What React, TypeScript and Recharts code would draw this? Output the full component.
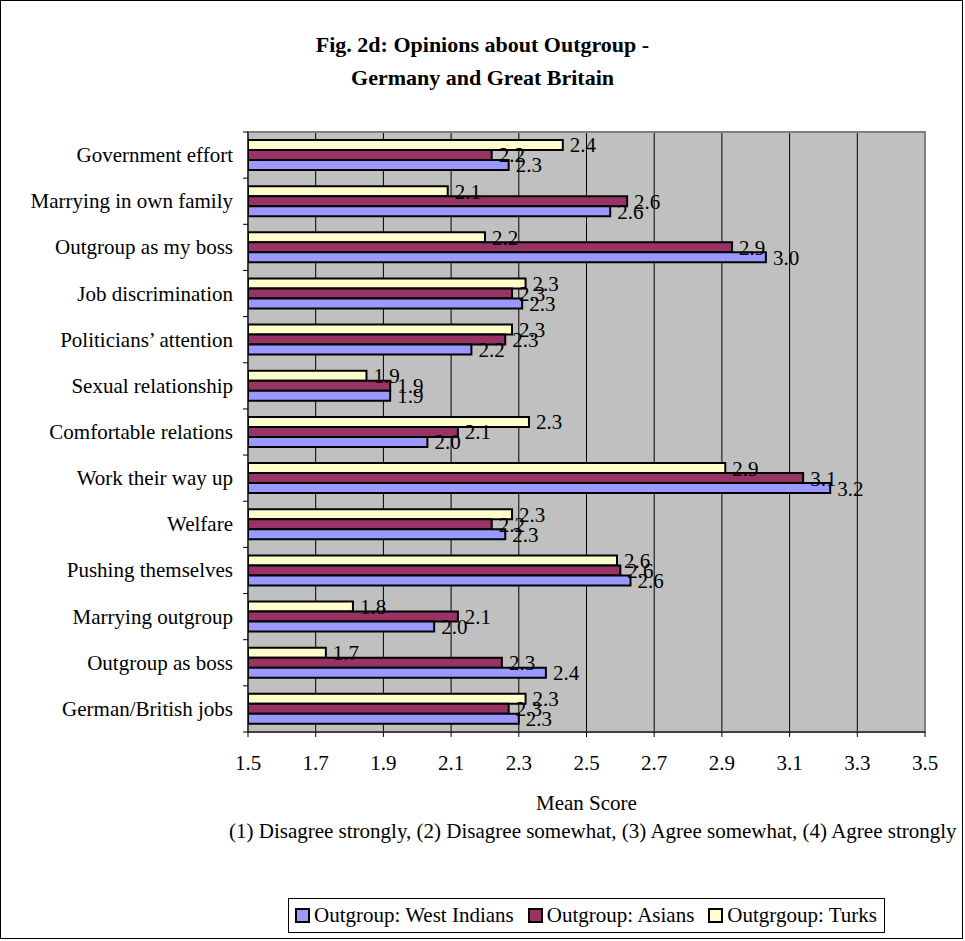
import { Bar, BarChart, CartesianGrid, LabelList, Legend, ReferenceArea, XAxis, YAxis } from 'recharts'

const categories = [
  'Government effort',
  'Marrying in own family',
  'Outgroup as my boss',
  'Job discrimination',
  'Politicians\u2019 attention',
  'Sexual relationship',
  'Comfortable relations',
  'Work their way up',
  'Welfare',
  'Pushing themselves',
  'Marrying outgroup',
  'Outgroup as boss',
  'German/British jobs',
]

const westIndians = [2.27, 2.57, 3.03, 2.31, 2.16, 1.92, 2.03, 3.22, 2.26, 2.63, 2.05, 2.38, 2.3]
const asians = [2.22, 2.62, 2.93, 2.28, 2.26, 1.92, 2.12, 3.14, 2.22, 2.6, 2.12, 2.25, 2.27]
const turks = [2.43, 2.09, 2.2, 2.32, 2.28, 1.85, 2.33, 2.91, 2.28, 2.59, 1.81, 1.73, 2.32]

const xTicks = [1.5, 1.7, 1.9, 2.1, 2.3, 2.5, 2.7, 2.9, 3.1, 3.3, 3.5]

// bars are stacked top-to-bottom in this order inside each category
const series = [
  { key: 'turks', name: 'Outgrgoup: Turks', color: '#FFFFCC' },
  { key: 'asians', name: 'Outgroup: Asians', color: '#993366' },
  { key: 'westIndians', name: 'Outgroup: West Indians', color: '#9999FF' },
]
const legendOrder = ['westIndians', 'asians', 'turks']

const data = categories.map((name, i) => ({
  name,
  westIndians: westIndians[i],
  asians: asians[i],
  turks: turks[i],
}))

const FONT = '"Liberation Serif", "Times New Roman", serif'
const FS = 21
const PLOT_LEFT = 248
const PLOT_TOP = 132
const PLOT_HEIGHT = 600
const BAND = PLOT_HEIGHT / categories.length

const CategoryTick = (props: any) => {
  const { y, payload, index } = props
  return (
    <g>
      <text x={PLOT_LEFT - 15} y={y} dy={7} textAnchor="end" fontSize={FS} fill="#000" fontFamily={FONT}>
        {payload.value}
      </text>
      <line x1={PLOT_LEFT - 5} x2={PLOT_LEFT} y1={y - BAND / 2} y2={y - BAND / 2} stroke="#000" />
      {index === categories.length - 1 && (
        <line x1={PLOT_LEFT - 5} x2={PLOT_LEFT} y1={y + BAND / 2} y2={y + BAND / 2} stroke="#000" />
      )}
    </g>
  )
}

const LegendBox = () => (
  <div
    style={{
      border: '1px solid #000',
      height: 35,
      boxSizing: 'border-box',
      display: 'flex',
      alignItems: 'center',
      paddingLeft: 6,
      gap: 14,
      fontFamily: FONT,
      fontSize: FS,
      background: '#fff',
      whiteSpace: 'nowrap',
    }}
  >
    {legendOrder.map((k) => {
      const s = series.find((x) => x.key === k)!
      return (
        <span key={k} style={{ display: 'flex', alignItems: 'center' }}>
          <span
            style={{
              width: 15,
              height: 15,
              boxSizing: 'border-box',
              border: '2px solid #000',
              background: s.color,
              marginRight: 4,
              display: 'inline-block',
            }}
          />
          {s.name}
        </span>
      )
    })}
  </div>
)

export default function App() {
  return (
    <div style={{ position: 'absolute', left: 0, top: 0, width: 965, height: 941, background: '#fff' }}>
      <div
        style={{
          position: 'absolute',
          left: 0,
          top: 0,
          width: 963,
          height: 939,
          border: '1px solid #000',
          boxSizing: 'border-box',
          pointerEvents: 'none',
        }}
      />
      <div
        style={{
          position: 'absolute',
          left: 0,
          top: 28,
          width: 965,
          textAlign: 'center',
          fontFamily: FONT,
          fontWeight: 'bold',
          fontSize: 22,
          lineHeight: '33px',
        }}
      >
        Fig. 2d: Opinions about Outgroup -<br />
        Germany and Great Britain
      </div>
      <BarChart
        layout="vertical"
        width={965}
        height={941}
        data={data}
        barSize={10}
        barGap={0}
        margin={{ top: PLOT_TOP, right: 40, left: 8, bottom: 144 }}
      >
        <CartesianGrid horizontal={false} stroke="#000" fill="#C0C0C0" fillOpacity={1} />
        <ReferenceArea x1={1.5} x2={3.5} fill="none" stroke="#808080" strokeWidth={2} ifOverflow="visible" />
        <XAxis
          type="number"
          domain={[1.5, 3.5]}
          ticks={xTicks}
          allowDataOverflow
          tickFormatter={(v: number) => v.toFixed(1)}
          tick={{ fontSize: FS, fill: '#000', fontFamily: FONT }}
          tickSize={5}
          tickMargin={18}
          stroke="#000"
          height={30}
        />
        <YAxis
          type="category"
          dataKey="name"
          width={240}
          tick={<CategoryTick />}
          tickLine={false}
          interval={0}
          stroke="#000"
        />
        {series.map((s) => (
          <Bar key={s.key} dataKey={s.key} name={s.name} fill={s.color} stroke="#000" strokeWidth={2} isAnimationActive={false}>
            <LabelList
              dataKey={s.key}
              position="right"
              offset={7}
              formatter={(v: any) => Number(v).toFixed(1)}
              style={{ fontSize: FS, fill: '#000', fontFamily: FONT }}
            />
          </Bar>
        ))}
        <Legend content={<LegendBox />} wrapperStyle={{ left: 288, top: 898, width: 597 }} />
      </BarChart>
      <div
        style={{
          position: 'absolute',
          left: PLOT_LEFT,
          top: 791,
          width: 677,
          textAlign: 'center',
          fontFamily: FONT,
          fontSize: FS,
        }}
      >
        Mean Score
      </div>
      <div
        style={{
          position: 'absolute',
          left: 229,
          top: 819,
          fontFamily: FONT,
          fontSize: FS,
          whiteSpace: 'nowrap',
        }}
      >
        (1) Disagree strongly, (2) Disagree somewhat, (3) Agree somewhat, (4) Agree strongly
      </div>
    </div>
  )
}
